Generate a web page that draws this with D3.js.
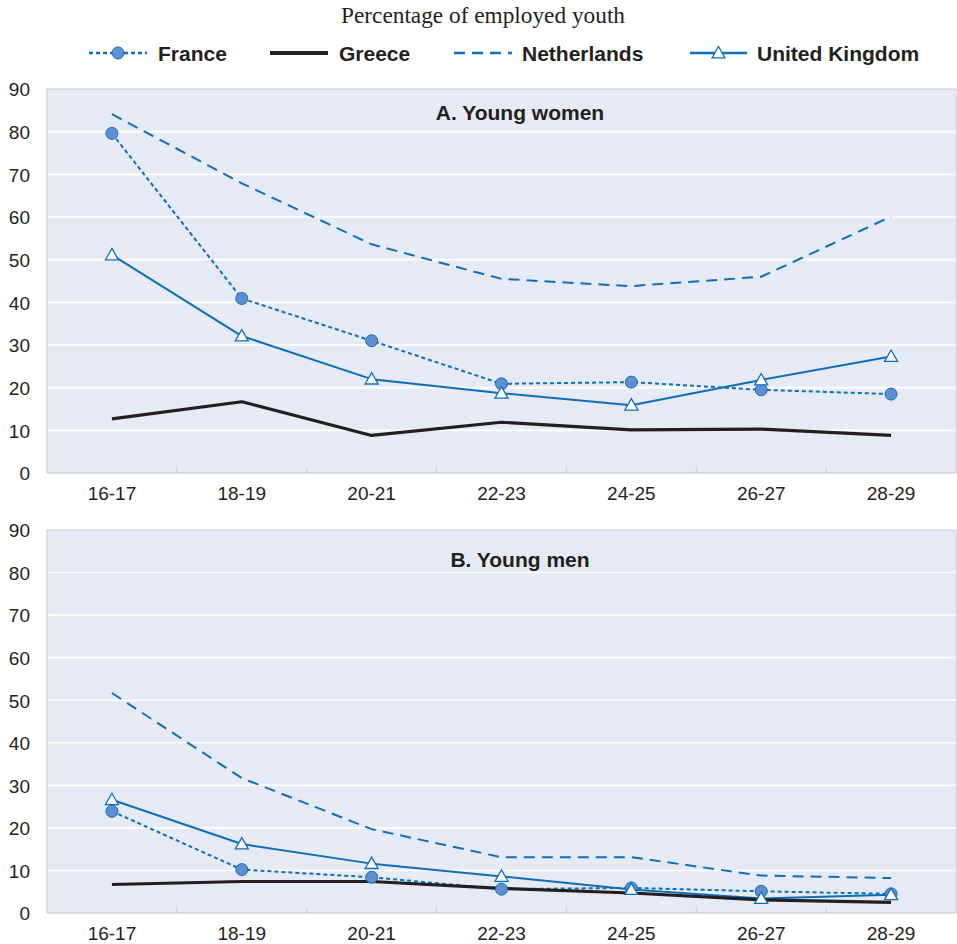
<!DOCTYPE html>
<html>
<head>
<meta charset="utf-8">
<script src="https://cdn.jsdelivr.net/npm/d3@7"></script>
<style>
  html, body { margin: 0; padding: 0; background: #ffffff; }
  svg { display: block; }
</style>
</head>
<body>
<svg id="chart" width="957" height="944"></svg>
<script>
// Age groups on the horizontal axis
const ageGroups = ["16-17", "18-19", "20-21", "22-23", "24-25", "26-27", "28-29"];
const yTicks = [0, 10, 20, 30, 40, 50, 60, 70, 80, 90];

// A. Young women (percentage of employed youth)
const womenFrance      = [79.6, 40.9, 31.0, 20.9, 21.3, 19.5, 18.5];
const womenGreece      = [12.7, 16.7, 8.8, 11.9, 10.1, 10.3, 8.8];
const womenNetherlands = [84.1, 67.9, 53.6, 45.5, 43.8, 46.0, 60.1];
const womenUK          = [51.1, 32.1, 22.0, 18.7, 15.9, 21.8, 27.3];

// B. Young men
const menFrance      = [23.9, 10.2, 8.4, 5.6, 5.9, 5.1, 4.5];
const menGreece      = [6.7, 7.4, 7.4, 5.8, 4.7, 3.1, 2.5];
const menNetherlands = [51.7, 31.7, 19.7, 13.1, 13.1, 8.8, 8.2];
const menUK          = [26.6, 16.2, 11.6, 8.6, 5.5, 3.4, 4.3];

const countries = ["France", "Greece", "Netherlands", "United Kingdom"];

const BLUE = "#0d6fba";
const BLACK = "#231f20";
const styles = {
  "France":         { color: BLUE,  width: 2,   dash: "4,3",  marker: "circle" },
  "Greece":         { color: BLACK, width: 3.2, dash: null,   marker: null },
  "Netherlands":    { color: BLUE,  width: 2,   dash: "11,7", marker: null },
  "United Kingdom": { color: BLUE,  width: 2,   dash: null,   marker: "triangle" }
};

const panels = [
  { title: "A. Young women", top: 89, bottom: 473, titleOffset: 31,
    series: { "France": womenFrance, "Greece": womenGreece, "Netherlands": womenNetherlands, "United Kingdom": womenUK } },
  { title: "B. Young men", top: 530, bottom: 913, titleOffset: 37,
    series: { "France": menFrance, "Greece": menGreece, "Netherlands": menNetherlands, "United Kingdom": menUK } }
];

const svg = d3.select("#chart");
const left = 47, right = 956;
const sans = "'Liberation Sans', Arial, Helvetica, sans-serif";

// Chart heading
svg.append("text")
  .attr("x", 483).attr("y", 23)
  .attr("text-anchor", "middle")
  .attr("font-family", "'Liberation Serif', 'Times New Roman', serif")
  .attr("font-size", 23.3)
  .attr("fill", "#231f20")
  .text("Percentage of employed youth");

// Legend
const legendItems = [
  { name: "France", x0: 89, x1: 147, tx: 158 },
  { name: "Greece", x0: 270, x1: 328, tx: 339 },
  { name: "Netherlands", x0: 454, x1: 512, tx: 522 },
  { name: "United Kingdom", x0: 690, x1: 747, tx: 757 }
];
const legendY = 53;

function drawMarker(g, type, cx, cy) {
  if (type === "circle") {
    g.append("circle")
      .attr("cx", cx).attr("cy", cy).attr("r", 6)
      .attr("fill", "#5f8fd0").attr("stroke", BLUE).attr("stroke-width", 1);
  } else if (type === "triangle") {
    const s = 6.5;
    g.append("path")
      .attr("d", `M${cx},${cy - s}L${cx + s},${cy + s * 0.75}L${cx - s},${cy + s * 0.75}Z`)
      .attr("fill", "#ffffff").attr("stroke", BLUE).attr("stroke-width", 1.3);
  }
}

const legend = svg.append("g");
legendItems.forEach(item => {
  const st = styles[item.name];
  legend.append("line")
    .attr("x1", item.x0).attr("x2", item.x1)
    .attr("y1", legendY).attr("y2", legendY)
    .attr("stroke", st.color)
    .attr("stroke-width", st.width + 0.6)
    .attr("stroke-dasharray", st.dash);
  if (st.marker) drawMarker(legend, st.marker, (item.x0 + item.x1) / 2, legendY);
  legend.append("text")
    .attr("x", item.tx).attr("y", legendY + 7.5)
    .attr("font-family", sans)
    .attr("font-weight", "bold")
    .attr("font-size", 21)
    .attr("fill", "#231f20")
    .text(item.name);
});

// Shared horizontal scale
const x = d3.scaleBand().domain(ageGroups).range([left, right]).paddingInner(0).paddingOuter(0);
const xc = d => x(d) + x.bandwidth() / 2;

panels.forEach(p => {
  const y = d3.scaleLinear().domain([0, 90]).range([p.bottom, p.top]);
  const g = svg.append("g");

  // Plot background and frame
  g.append("rect")
    .attr("x", left).attr("y", p.top)
    .attr("width", right - left).attr("height", p.bottom - p.top)
    .attr("fill", "#e6eaf5")
    .attr("stroke", "#c9ccd3").attr("stroke-width", 1);

  // Horizontal gridlines
  g.selectAll(".grid").data(yTicks.filter(t => t > 0 && t < 90)).enter()
    .append("line")
    .attr("x1", left + 1).attr("x2", right - 1)
    .attr("y1", d => y(d)).attr("y2", d => y(d))
    .attr("stroke", "#ffffff").attr("stroke-width", 1.6);

  // Vertical axis labels
  const yAxis = d3.axisLeft(y).tickValues(yTicks).tickSize(0).tickPadding(0);
  const ya = g.append("g").attr("transform", `translate(30,0)`).call(yAxis);
  ya.select(".domain").remove();
  ya.selectAll("text")
    .attr("font-family", sans).attr("font-size", 19).attr("fill", "#231f20")
    .attr("dy", "0.36em");

  // Category boundary ticks along the bottom
  const bounds = ageGroups.slice(1).map(d => x(d));
  g.selectAll(".btick").data(bounds).enter()
    .append("line")
    .attr("x1", d => d).attr("x2", d => d)
    .attr("y1", p.bottom).attr("y2", p.bottom - 6)
    .attr("stroke", "#c9ccd3").attr("stroke-width", 1);

  // Category labels
  const xAxis = d3.axisBottom(x).tickSize(0).tickPadding(0);
  const xa = g.append("g").attr("transform", `translate(0,${p.bottom + 13})`).call(xAxis);
  xa.select(".domain").remove();
  xa.selectAll("text")
    .attr("font-family", sans).attr("font-size", 19).attr("fill", "#231f20")
    .attr("dy", "0.72em");

  // Panel title
  g.append("text")
    .attr("x", 520).attr("y", p.top + p.titleOffset)
    .attr("text-anchor", "middle")
    .attr("font-family", sans).attr("font-weight", "bold").attr("font-size", 21)
    .attr("fill", "#231f20")
    .text(p.title);

  const line = d3.line().x((d, i) => xc(ageGroups[i])).y(d => y(d));

  ["Netherlands", "France", "United Kingdom", "Greece"].forEach(c => {
    const st = styles[c];
    g.append("path")
      .attr("d", line(p.series[c]))
      .attr("fill", "none")
      .attr("stroke", st.color)
      .attr("stroke-width", st.width)
      .attr("stroke-dasharray", st.dash)
      .attr("stroke-linejoin", "round");
  });

  ["France", "United Kingdom"].forEach(c => {
    const st = styles[c];
    p.series[c].forEach((v, i) => drawMarker(g, st.marker, xc(ageGroups[i]), y(v)));
  });
});
</script>
</body>
</html>
